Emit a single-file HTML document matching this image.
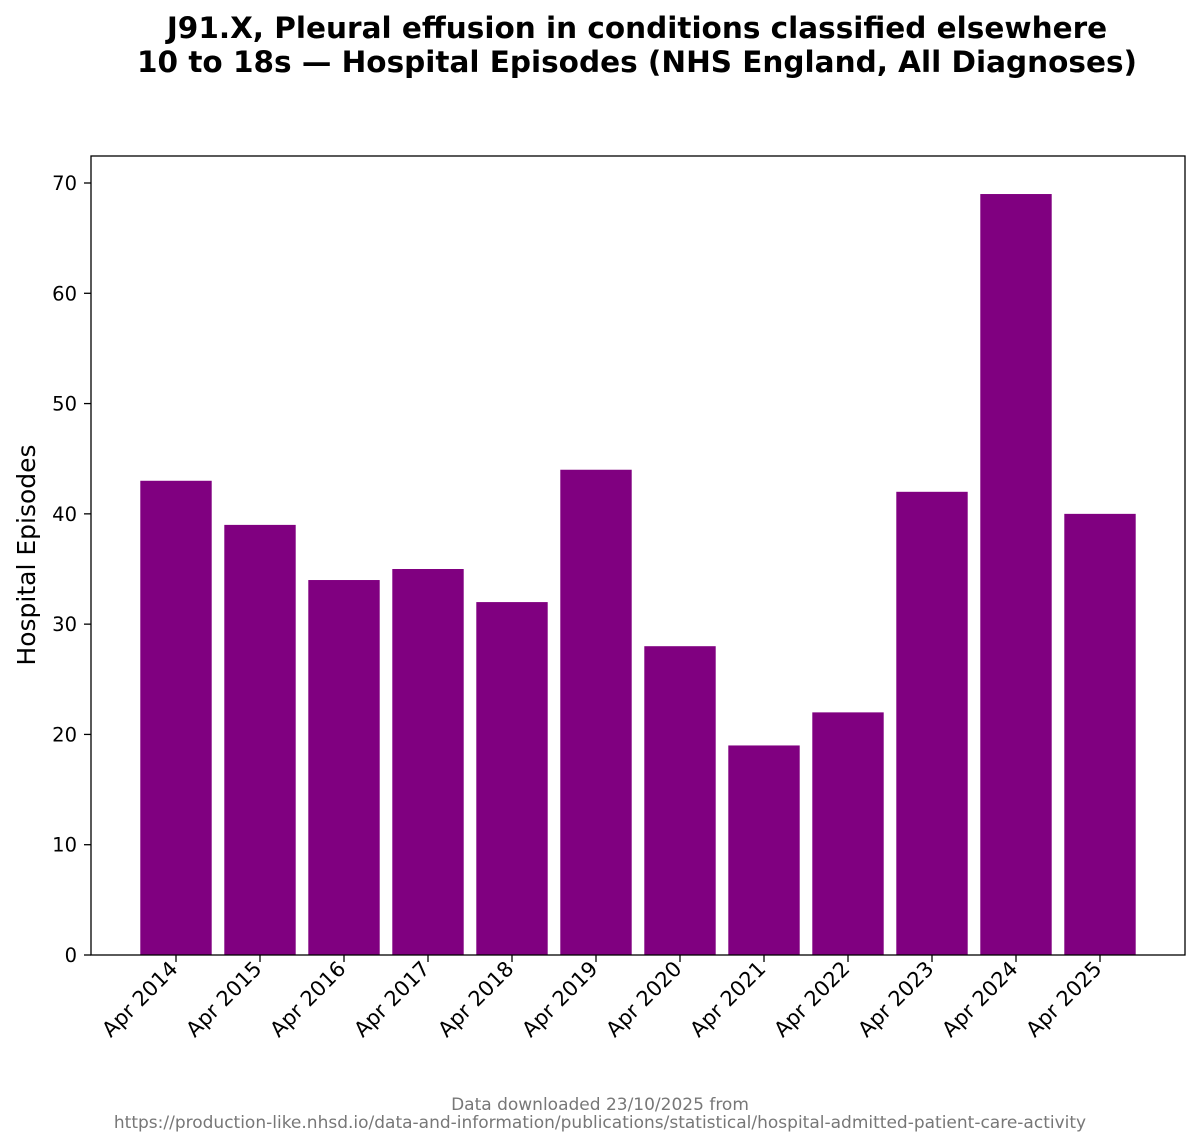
<!DOCTYPE html>
<html><head><meta charset="utf-8"><style>
body{margin:0;background:#fff;}
svg{display:block;font-family:"DejaVu Sans","Liberation Sans",sans-serif;}
</style></head><body>
<svg id="chart" width="1200" height="1146" viewBox="0 0 1200 1146">
<text x="637" y="38" text-anchor="middle" font-size="29.5" font-weight="bold">J91.X, Pleural effusion in conditions classified elsewhere</text>
<text x="637" y="72" text-anchor="middle" font-size="29.5" font-weight="bold">10 to 18s — Hospital Episodes (NHS England, All Diagnoses)</text>
<g id="bars"></g>
<g id="yticks"></g>
<g id="xticks"></g>
<rect x="91" y="156" width="1094" height="799" fill="none" stroke="#000" stroke-width="1.3"/>
<text transform="translate(35,555) rotate(-90)" text-anchor="middle" font-size="25">Hospital Episodes</text>
<text x="600" y="1110" text-anchor="middle" font-size="17" fill="#777">Data downloaded 23/10/2025 from</text>
<text x="600" y="1128" text-anchor="middle" font-size="17" fill="#777">https://production-like.nhsd.io/data-and-information/publications/statistical/hospital-admitted-patient-care-activity</text>
</svg>
<script>
const categories=["Apr 2014","Apr 2015","Apr 2016","Apr 2017","Apr 2018","Apr 2019","Apr 2020","Apr 2021","Apr 2022","Apr 2023","Apr 2024","Apr 2025"];
const values=[43,39,34,35,32,44,28,19,22,42,69,40];
const yTicks=[0,10,20,30,40,50,60,70];
const NS="http://www.w3.org/2000/svg";
const x0=176,step=84,bw=71.4;
function xs(i){return x0+i*step;}
function ys(v){return 955-v*(955-183)/70;}
const bars=document.getElementById('bars'),yt=document.getElementById('yticks'),xt=document.getElementById('xticks');
values.forEach((v,i)=>{
 const r=document.createElementNS(NS,'rect');
 r.setAttribute('x',xs(i)-bw/2);r.setAttribute('y',ys(v));
 r.setAttribute('width',bw);r.setAttribute('height',ys(0)-ys(v));
 r.setAttribute('fill','#800080');
 
 
 bars.appendChild(r);
});
yTicks.forEach(t=>{
 const l=document.createElementNS(NS,'line');
 l.setAttribute('x1',84);l.setAttribute('x2',91);l.setAttribute('y1',ys(t));l.setAttribute('y2',ys(t));l.setAttribute('stroke','#000');l.setAttribute('stroke-width','1.3');
 
 
 yt.appendChild(l);
 const s=document.createElementNS(NS,'text');
 s.setAttribute('x',77);s.setAttribute('y',ys(t)+7);s.setAttribute('text-anchor','end');s.setAttribute('font-size','19.5');
 s.textContent=t;
 
 
 yt.appendChild(s);
});
categories.forEach((c,i)=>{
 const l=document.createElementNS(NS,'line');
 l.setAttribute('x1',xs(i));l.setAttribute('x2',xs(i));l.setAttribute('y1',955);l.setAttribute('y2',962);l.setAttribute('stroke','#000');l.setAttribute('stroke-width','1.3');
 
 
 xt.appendChild(l);
 const s=document.createElementNS(NS,'text');
 s.setAttribute('transform','translate('+(xs(i)+3)+',970) rotate(-45)');
 s.setAttribute('text-anchor','end');s.setAttribute('font-size','21');
 s.textContent=c;
 
 
 xt.appendChild(s);
});
</script>
</body></html>
